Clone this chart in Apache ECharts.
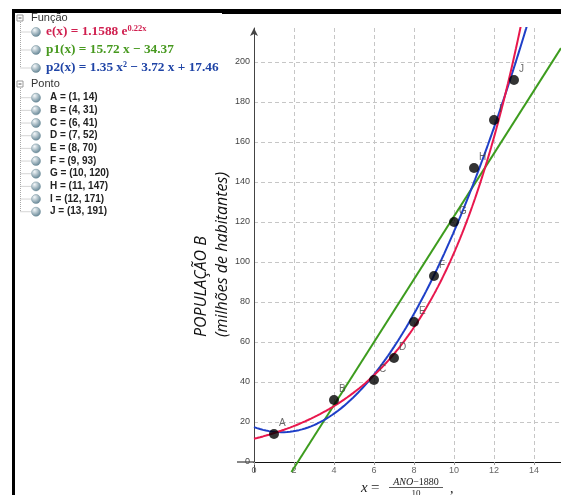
<!DOCTYPE html>
<html>
<head>
<meta charset="utf-8">
<script src="https://cdn.jsdelivr.net/npm/echarts@6/dist/echarts.min.js"></script>
<style>
  html, body { margin: 0; padding: 0; background: #fff; }
  #main { width: 561px; height: 495px; }
</style>
</head>
<body>
<div id="main"></div>
<script>
// points read from the algebra view
const pointNames = ['A', 'B', 'C', 'D', 'E', 'F', 'G', 'H', 'I', 'J'];
const pointX = [1, 4, 6, 7, 8, 9, 10, 11, 12, 13];
const pointY = [14, 31, 41, 52, 70, 93, 120, 147, 171, 191];

// fitted functions shown in the algebra view
const expCoef = 11.588;   // the drawn red curve; the label itself reads 1.1588
const expRate = 0.22;
const linCoef = [15.72, -34.37];
const quadCoef = [1.35, -3.72, 17.46];
const linStartX = 1.87;   // green line starts just below the x axis
const xMax = 15.35;
const yMax = 217;

const funcLabels = [
  { text: '{a|e(x) = 1.1588 e}{s|0.22x}', color: '#d01f4f' },
  { text: '{a|p1(x) = 15.72 x − 34.37}', color: '#47991f' },
  { text: '{a|p2(x) = 1.35 x² − 3.72 x + 17.46}', color: '#1f44a6' }
];

const expF = x => expCoef * Math.exp(expRate * x);
const linF = x => linCoef[0] * x + linCoef[1];
const quadF = x => quadCoef[0] * x * x + quadCoef[1] * x + quadCoef[2];

const xs = [];
for (let i = 0; i <= 280; i++) xs.push(i * 0.05);

const chart = echarts.init(document.getElementById('main'));

const ball = (x, y) => ({
  type: 'circle',
  shape: { cx: x, cy: y, r: 4.5 },
  style: {
    fill: new echarts.graphic.RadialGradient(0.35, 0.3, 0.8, [
      { offset: 0, color: '#f4f8fa' },
      { offset: 1, color: '#55798a' }
    ]),
    stroke: '#6f8c99', lineWidth: 0.5
  }
});
const dotted = (x1, y1, x2, y2) => ({
  type: 'line',
  shape: { x1: x1, y1: y1, x2: x2, y2: y2 },
  style: { stroke: '#aaa', lineWidth: 1, lineDash: [1, 1] }
});
const minusBox = (x, y) => [
  { type: 'rect', shape: { x: x, y: y, width: 6, height: 6 }, style: { fill: '#fff', stroke: '#999', lineWidth: 1 } },
  { type: 'line', shape: { x1: x + 1.5, y1: y + 3, x2: x + 4.5, y2: y + 3 }, style: { stroke: '#555', lineWidth: 1 } }
];

const graphics = [];
// window frame
graphics.push({ type: 'rect', shape: { x: 12, y: 10, width: 3, height: 485 }, style: { fill: '#000' } });
graphics.push({ type: 'rect', shape: { x: 12, y: 9, width: 549, height: 4 }, style: { fill: '#000' } });
graphics.push({ type: 'rect', shape: { x: 222, y: 9, width: 339, height: 5 }, style: { fill: '#000' } });

// Função group
const funcRows = [32, 50, 68];
graphics.push(...minusBox(17, 15));
graphics.push({ type: 'text', x: 31, y: 18, style: { text: 'Função', font: '11px "Liberation Sans"', fill: '#333', textVerticalAlign: 'middle' } });
graphics.push(dotted(20.5, 22, 20.5, funcRows[2]));
funcLabels.forEach((f, i) => {
  const y = funcRows[i];
  graphics.push(dotted(20.5, y, 31, y));
  graphics.push(ball(36, y));
  graphics.push({
    type: 'text', x: 46, y: y,
    style: {
      text: f.text, textVerticalAlign: 'middle',
      rich: {
        a: { font: 'bold 13.3px "Liberation Serif"', fill: f.color },
        s: { font: 'bold 8.5px "Liberation Serif"', fill: f.color, verticalAlign: 'top', padding: [0, 0, 7, 0] }
      }
    }
  });
});

// Ponto group
graphics.push(...minusBox(17, 81));
graphics.push({ type: 'text', x: 31, y: 84, style: { text: 'Ponto', font: '11px "Liberation Sans"', fill: '#333', textVerticalAlign: 'middle' } });
const rowY = i => 97.7 + i * 12.67;
graphics.push(dotted(20.5, 88, 20.5, rowY(9)));
pointNames.forEach((n, i) => {
  const y = rowY(i);
  graphics.push(dotted(20.5, y, 31, y));
  graphics.push(ball(36, y));
  graphics.push({
    type: 'text', x: 50, y: y,
    style: { text: n + ' = (' + pointX[i] + ', ' + pointY[i] + ')', font: 'bold 10px "Liberation Sans"', fill: '#222', textVerticalAlign: 'middle' }
  });
});

// axis extensions
graphics.push({ type: 'line', shape: { x1: 237, y1: 462, x2: 254, y2: 462 }, style: { stroke: '#111', lineWidth: 1 } });
graphics.push({ type: 'line', shape: { x1: 254.5, y1: 462, x2: 254.5, y2: 472 }, style: { stroke: '#444', lineWidth: 1 } });

// y axis title
graphics.push({ type: 'text', x: 201, y: 337, rotation: Math.PI / 2,
  style: { text: 'POPULAÇÃO B', font: 'italic 16px "Open Sans"', fill: '#111', textAlign: 'left', textVerticalAlign: 'middle' } });
graphics.push({ type: 'text', x: 222, y: 337, rotation: Math.PI / 2,
  style: { text: '(milhões de habitantes)', font: 'italic 16px "Open Sans"', fill: '#111', textAlign: 'left', textVerticalAlign: 'middle' } });

// x axis title
graphics.push({ type: 'text', x: 361, y: 488,
  style: { text: '{i|x} {n|=}', textVerticalAlign: 'middle',
    rich: { i: { font: 'italic 15px "Liberation Serif"', fill: '#222' }, n: { font: '15px "Liberation Serif"', fill: '#222' } } } });
graphics.push({ type: 'text', x: 416, y: 482,
  style: { text: '{i|ANO}{n|−1880}', textAlign: 'center', textVerticalAlign: 'middle',
    rich: { i: { font: 'italic 10px "Liberation Serif"', fill: '#222' }, n: { font: '10px "Liberation Serif"', fill: '#222' } } } });
graphics.push({ type: 'line', shape: { x1: 389, y1: 487.5, x2: 443, y2: 487.5 }, style: { stroke: '#333', lineWidth: 0.8 } });
graphics.push({ type: 'text', x: 416, y: 494, style: { text: '10', font: '9px "Liberation Serif"', fill: '#222', textAlign: 'center', textVerticalAlign: 'middle' } });
graphics.push({ type: 'text', x: 450, y: 489, style: { text: ',', font: '14px "Liberation Serif"', fill: '#222', textVerticalAlign: 'middle' } });

const gridLine = { color: '#c6c6c6', width: 1, type: [4, 3] };

chart.setOption({
  animation: false,
  backgroundColor: '#fff',
  grid: { left: 254, right: 0, top: 28, bottom: 33 },
  xAxis: {
    type: 'value', min: 0, max: xMax, interval: 2,
    axisLine: { onZero: true, lineStyle: { color: '#111', width: 1 } },
    axisTick: { show: true, length: 3, lineStyle: { color: '#999' } },
    axisLabel: { fontSize: 9, color: '#666', margin: 4, showMaxLabel: false, fontFamily: 'Liberation Sans' },
    splitLine: { show: true, showMinLine: false, showMaxLine: false, lineStyle: gridLine }
  },
  yAxis: {
    type: 'value', min: 0, max: yMax, interval: 20,
    axisLine: { show: true, symbol: ['none', 'arrow'], symbolSize: [6, 8], lineStyle: { color: '#444', width: 1 } },
    axisTick: { show: false },
    axisLabel: { fontSize: 9, color: '#444', margin: 4, showMaxLabel: false, fontFamily: 'Liberation Sans' },
    splitLine: { show: true, showMinLine: false, showMaxLine: false, lineStyle: gridLine }
  },
  series: [
    {
      type: 'line', name: 'p1', clip: false, symbol: 'none', z: 2,
      data: [[linStartX, linF(linStartX)], [xMax, linF(xMax)]],
      lineStyle: { color: '#3d9c1e', width: 2 }
    },
    {
      type: 'line', name: 'p2', symbol: 'none', z: 3,
      data: xs.map(x => [x, quadF(x)]),
      lineStyle: { color: '#1e3fc8', width: 2 }
    },
    {
      type: 'line', name: 'e', symbol: 'none', z: 4,
      data: xs.map(x => [x, expF(x)]),
      lineStyle: { color: '#e8174d', width: 2 }
    },
    {
      type: 'scatter', name: 'pontos', z: 5,
      symbolSize: 10,
      itemStyle: { color: '#000' },
      data: pointX.map((x, i) => ({ name: pointNames[i], value: [x, pointY[i]] })),
      label: {
        show: true, formatter: '{b}', position: 'right', distance: 0, offset: [0, -11],
        fontSize: 10, color: '#444', fontFamily: 'Liberation Sans'
      }
    }
  ],
  graphic: graphics
});
</script>
</body>
</html>
